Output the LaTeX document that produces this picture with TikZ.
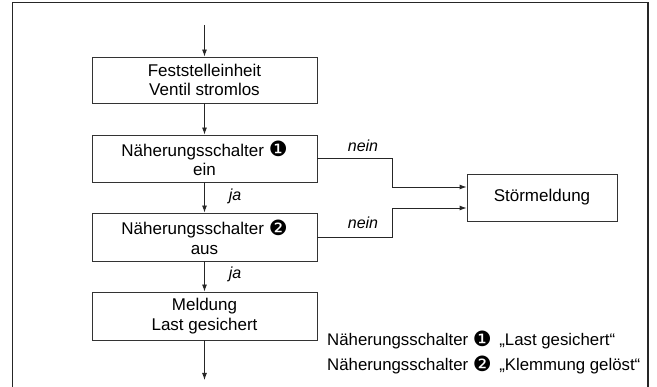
\documentclass[tikz,border=0pt]{standalone}
\usepackage{fontspec}
\setmainfont{Liberation Sans}
\newfontfamily\dvfont{DejaVu Sans}
\newcommand{\cnum}[1]{\raisebox{-0.8pt}{\dvfont\fontsize{21}{21}\selectfont #1}}
\usetikzlibrary{arrows.meta}
\begin{document}
\begin{tikzpicture}[x=1pt,y=-1pt,
  box/.style={draw=black!80, line width=0.9pt, minimum width=225pt, minimum height=46pt, align=center, font=\fontsize{17}{19.5}\selectfont, inner sep=0pt},
  flow/.style={draw=black!85, line width=0.9pt, -{Latex[length=7pt,width=5pt]}},
  lbl/.style={font=\fontsize{16}{18}\selectfont\itshape, inner sep=0pt},
  legend/.style={font=\fontsize{16.8}{18}\selectfont, anchor=base west, inner sep=0pt}]
\useasboundingbox (0,0) rectangle (657,387);
\draw[line width=1.5pt, black!85] (12.5,387) -- (12.5,2.5) -- (648,2.5) -- (648,387);
\node[box] (b1) at (204.5,80) {Feststelleinheit\\Ventil stromlos};
\node[box, minimum height=47pt] (b2) at (204.5,158.5) {Näherungsschalter \cnum{❶}\\ein};
\node[box, minimum height=48pt] (b3) at (204.5,237) {Näherungsschalter \cnum{❷}\\aus};
\node[box, minimum height=48pt] (b4) at (204.5,316) {Meldung\\Last gesichert};
\node[box, minimum width=150pt, minimum height=47pt] (st) at (542,197.5) {Störmeldung};
\coordinate (top) at (204.5,25);
\coordinate (bot) at (204.5,380);
\coordinate (k1) at (392,158.5);
\coordinate (k2) at (392,237);
\draw[flow] (top) -- (b1);
\draw[flow] (b1) -- (b2);
\draw[flow] (b2) -- (b3);
\draw[flow] (b3) -- (b4);
\draw[flow] (b4) -- (bot);
\draw[flow] (b2.east) -- (k1) |- ([yshift=10.5pt]st.west);
\draw[flow] (b3.east) -- (k2) |- ([yshift=-10.5pt]st.west);
\node[lbl] (n1) at (363,146) {nein};
\node[lbl] (n2) at (363,223) {nein};
\node[lbl] (j1) at (235,196) {ja};
\node[lbl] (j2) at (235,274) {ja};
\node[legend] (l1) at (327,346) {Näherungsschalter \cnum{❶}\hspace{3pt} „Last gesichert“};
\node[legend] (l2) at (327,371) {Näherungsschalter \cnum{❷}\hspace{3pt} „Klemmung gelöst“};
\end{tikzpicture}
\end{document}
